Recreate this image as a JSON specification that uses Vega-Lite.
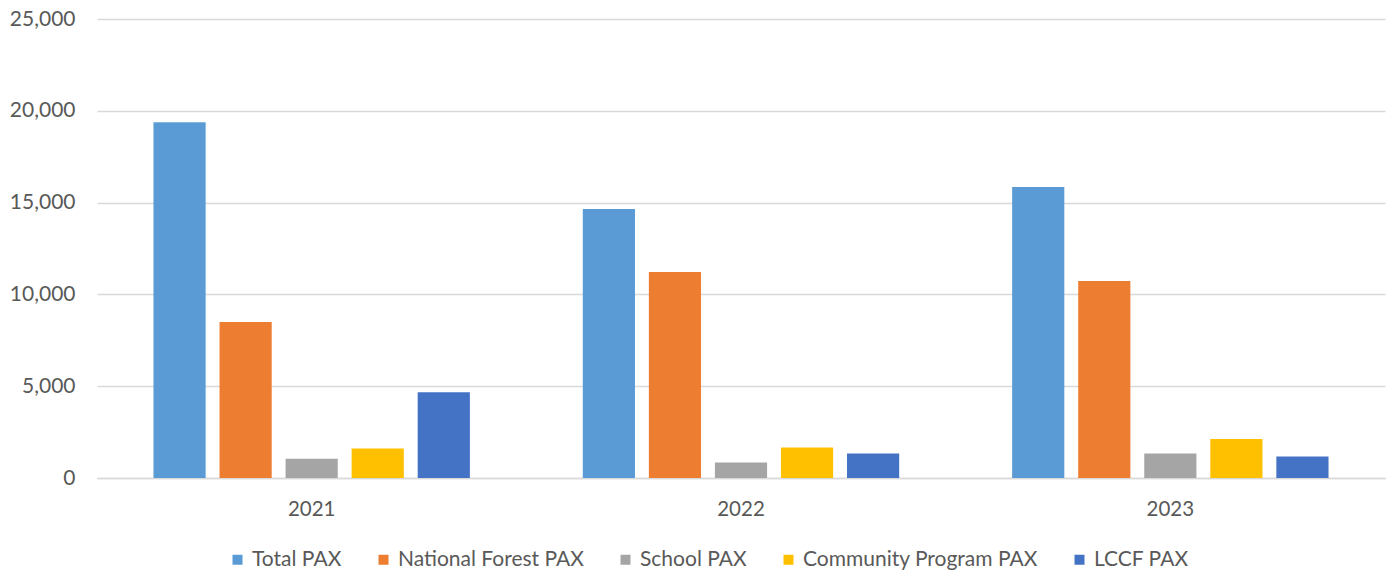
{
  "$schema": "https://vega.github.io/schema/vega-lite/v6.json",
  "width": 1288,
  "height": 459,
  "autosize": {"type": "none"},
  "padding": {"left": 97, "top": 19, "right": 9, "bottom": 99},
  "background": "white",
  "config": {
    "view": {"stroke": null},
    "font": "Lato",
    "axis": {"labelFont": "Lato", "labelColor": "#595959", "labelFontSize": 21},
    "legend": {"labelFont": "Lato", "labelColor": "#595959", "labelFontSize": 21, "labelLimit": 0}
  },
  "data": {
    "values": [
      {"year": "2021", "series": "Total PAX", "value": 19370},
      {"year": "2021", "series": "National Forest PAX", "value": 8490},
      {"year": "2021", "series": "School PAX", "value": 1050},
      {"year": "2021", "series": "Community Program PAX", "value": 1600},
      {"year": "2021", "series": "LCCF PAX", "value": 4670},
      {"year": "2022", "series": "Total PAX", "value": 14650},
      {"year": "2022", "series": "National Forest PAX", "value": 11220},
      {"year": "2022", "series": "School PAX", "value": 840},
      {"year": "2022", "series": "Community Program PAX", "value": 1660},
      {"year": "2022", "series": "LCCF PAX", "value": 1330},
      {"year": "2023", "series": "Total PAX", "value": 15850},
      {"year": "2023", "series": "National Forest PAX", "value": 10730},
      {"year": "2023", "series": "School PAX", "value": 1330},
      {"year": "2023", "series": "Community Program PAX", "value": 2130},
      {"year": "2023", "series": "LCCF PAX", "value": 1170}
    ]
  },
  "mark": {"type": "bar"},
  "encoding": {
    "x": {
      "field": "year",
      "type": "nominal",
      "scale": {"paddingInner": 0, "paddingOuter": 0},
      "axis": {
        "title": null,
        "labelAngle": 0,
        "labelFontSize": 20.5,
        "ticks": false,
        "domainColor": "#d9d9d9",
        "domainWidth": 1.5,
        "labelPadding": 21,
        "grid": false
      }
    },
    "xOffset": {
      "field": "series",
      "type": "nominal",
      "sort": ["Total PAX", "National Forest PAX", "School PAX", "Community Program PAX", "LCCF PAX"],
      "scale": {"paddingInner": 0.21, "paddingOuter": 0.855}
    },
    "y": {
      "field": "value",
      "type": "quantitative",
      "scale": {"domain": [0, 25000]},
      "axis": {
        "title": null,
        "values": [0, 5000, 10000, 15000, 20000, 25000],
        "format": ",d",
        "domain": false,
        "ticks": false,
        "gridColor": "#d9d9d9",
        "gridWidth": 1.5,
        "labelPadding": 22
      }
    },
    "color": {
      "field": "series",
      "type": "nominal",
      "sort": ["Total PAX", "National Forest PAX", "School PAX", "Community Program PAX", "LCCF PAX"],
      "scale": {
        "domain": ["Total PAX", "National Forest PAX", "School PAX", "Community Program PAX", "LCCF PAX"],
        "range": ["#5B9BD5", "#ED7D31", "#A5A5A5", "#FFC000", "#4472C4"]
      },
      "legend": {
        "title": null,
        "orient": "none",
        "legendX": 130,
        "legendY": 530,
        "direction": "horizontal",
        "symbolType": "square",
        "symbolSize": 100,
        "symbolStrokeWidth": 0,
        "labelOffset": 4,
        "columnPadding": 31
      }
    }
  }
}
